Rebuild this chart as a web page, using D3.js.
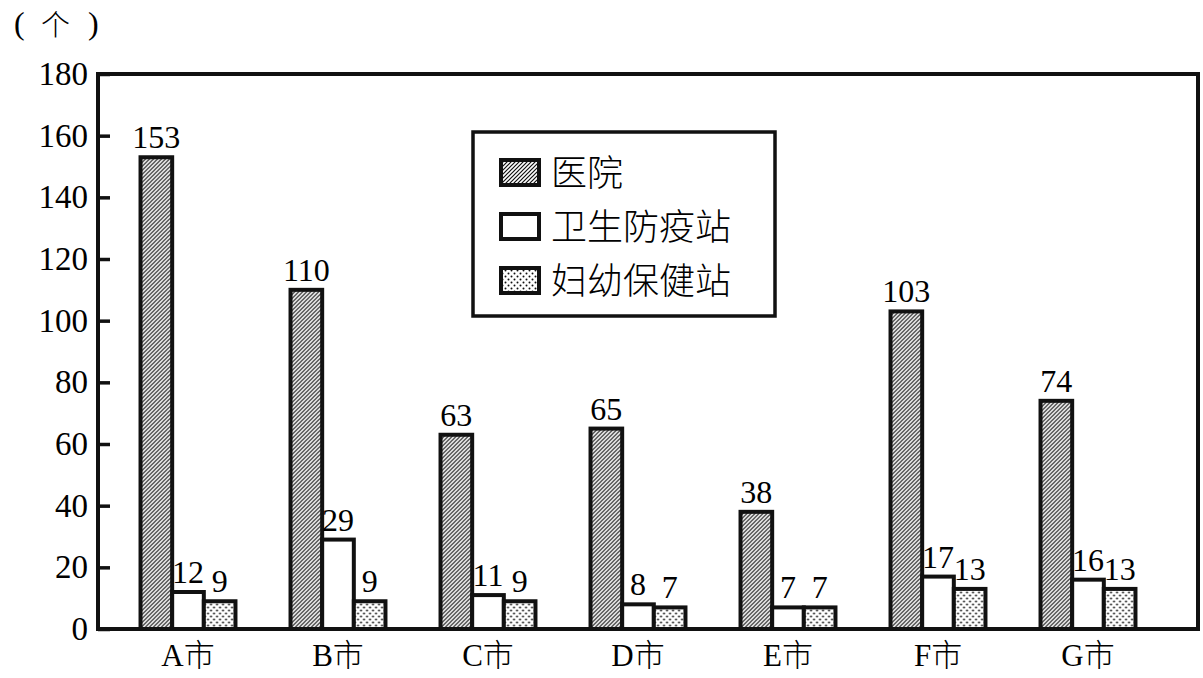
<!DOCTYPE html>
<html>
<head>
<meta charset="utf-8">
<script src="https://cdn.jsdelivr.net/npm/d3@7"></script>
<style>
  body { margin: 0; background: #fff; }
  svg { display: block; }
</style>
</head>
<body>
<svg id="chart"></svg>
<script>
const cities = ["A市", "B市", "C市", "D市", "E市", "F市", "G市"];
const seriesNames = ["医院", "卫生防疫站", "妇幼保健站"];
const hospital = [153, 110, 63, 65, 38, 103, 74];
const epidemic = [12, 29, 11, 8, 7, 17, 16];
const maternal = [9, 9, 9, 7, 7, 13, 13];
const yTicks = [0, 20, 40, 60, 80, 100, 120, 140, 160, 180];
const unitLabel = ["(", "个", ")"];

const width = 1203, height = 678;
const frame = {left: 98, right: 1198, top: 74, bottom: 629};
const serif = "'Liberation Serif', 'DejaVu Serif', serif";
const cjk = "'Noto Sans CJK SC', sans-serif";

const svg = d3.select("#chart")
  .attr("width", width)
  .attr("height", height);

// fill patterns
const defs = svg.append("defs");
const hatch = defs.append("pattern")
  .attr("id", "hatch")
  .attr("patternUnits", "userSpaceOnUse")
  .attr("width", 4).attr("height", 4);
hatch.append("rect").attr("width", 4).attr("height", 4).attr("fill", "#fff");
hatch.append("path")
  .attr("d", "M-1,1 l2,-2 M0,4 l4,-4 M3,5 l2,-2")
  .attr("stroke", "#111").attr("stroke-width", 1.2);

const dots = defs.append("pattern")
  .attr("id", "dots")
  .attr("patternUnits", "userSpaceOnUse")
  .attr("width", 6).attr("height", 6);
dots.append("rect").attr("width", 6).attr("height", 6).attr("fill", "#fff");
dots.selectAll("circle")
  .data([[1.5, 1.5], [4.5, 4.5]])
  .join("circle")
    .attr("cx", d => d[0]).attr("cy", d => d[1])
    .attr("r", 1).attr("fill", "#111");

const fills = ["url(#hatch)", "#fff", "url(#dots)"];
const series = [hospital, epidemic, maternal];

const x = d3.scaleBand().domain(cities).range([113, 1163]).paddingInner(0.367).paddingOuter(0.1835);
const xs = d3.scaleBand().domain(d3.range(3)).range([0, x.bandwidth()]);
const y = d3.scaleLinear().domain([0, 180]).range([frame.bottom, frame.top]);

// unit label, one glyph at a time so the brackets spread like the original
svg.append("g")
  .selectAll("text")
  .data(unitLabel)
  .join("text")
    .attr("x", (d, i) => [14, 41, 88][i])
    .attr("y", (d, i) => i === 1 ? 36 : 34)
    .attr("font-size", (d, i) => i === 1 ? 29 : 32)
    .attr("font-family", (d, i) => i === 1 ? cjk : serif)
    .attr("font-weight", (d, i) => i === 1 ? 300 : 400)
    .text(d => d);

// y axis ticks (inward) and labels
const yAxis = svg.append("g")
  .attr("transform", `translate(${frame.left},0)`)
  .call(d3.axisRight(y).tickValues(yTicks).tickSize(12).tickFormat(""));
yAxis.select(".domain").remove();
yAxis.selectAll("line").attr("stroke", "#111").attr("stroke-width", 3.5);

svg.append("g")
  .attr("font-family", serif)
  .attr("font-size", 33)
  .attr("text-anchor", "end")
  .selectAll("text")
  .data(yTicks)
  .join("text")
    .attr("x", 88)
    .attr("y", d => y(d) + 11)
    .text(d => d);

// bars
const groups = svg.append("g")
  .selectAll("g")
  .data(cities)
  .join("g")
    .attr("transform", d => `translate(${x(d)},0)`);

groups.selectAll("rect")
  .data((c, ci) => series.map((s, si) => ({si, v: s[ci]})))
  .join("rect")
    .attr("x", d => xs(d.si))
    .attr("y", d => y(d.v))
    .attr("width", xs.bandwidth())
    .attr("height", d => y(0) - y(d.v))
    .attr("fill", d => fills[d.si])
    .attr("stroke", "#111")
    .attr("stroke-width", 4);

groups.selectAll("text")
  .data((c, ci) => series.map((s, si) => ({si, v: s[ci]})))
  .join("text")
    .attr("x", d => xs(d.si) + xs.bandwidth() / 2)
    .attr("y", d => y(d.v) - 9)
    .attr("text-anchor", "middle")
    .attr("font-family", serif)
    .attr("font-size", 32)
    .text(d => d.v);

// frame
svg.append("rect")
  .attr("x", frame.left).attr("y", frame.top)
  .attr("width", frame.right - frame.left)
  .attr("height", frame.bottom - frame.top)
  .attr("fill", "none")
  .attr("stroke", "#111")
  .attr("stroke-width", 4);

// category labels: latin letter in serif, 市 in CJK
const catText = svg.append("g")
  .attr("font-size", 31)
  .attr("text-anchor", "middle")
  .selectAll("text")
  .data(cities)
  .join("text")
    .attr("x", d => x(d) + x.bandwidth() / 2)
    .attr("y", 666);
catText.append("tspan")
  .attr("font-family", serif)
  .text(d => d.slice(0, 1));
catText.append("tspan")
  .attr("font-family", cjk)
  .attr("font-weight", 300)
  .text(d => d.slice(1));

// legend
const legend = svg.append("g");
legend.append("rect")
  .attr("x", 473).attr("y", 132)
  .attr("width", 302).attr("height", 184)
  .attr("fill", "#fff")
  .attr("stroke", "#111")
  .attr("stroke-width", 3.5);

const legendRow = d3.scalePoint().domain(d3.range(3)).range([173, 281]);
const item = legend.selectAll("g.item")
  .data(seriesNames)
  .join("g")
    .attr("class", "item")
    .attr("transform", (d, i) => `translate(0,${legendRow(i)})`);
item.append("rect")
  .attr("x", 501).attr("y", -13)
  .attr("width", 38).attr("height", 25)
  .attr("fill", (d, i) => fills[i])
  .attr("stroke", "#111")
  .attr("stroke-width", 4);
item.append("text")
  .attr("x", 551).attr("y", 13)
  .attr("font-family", cjk)
  .attr("font-weight", 300)
  .attr("font-size", 36)
  .text(d => d);
</script>
</body>
</html>
